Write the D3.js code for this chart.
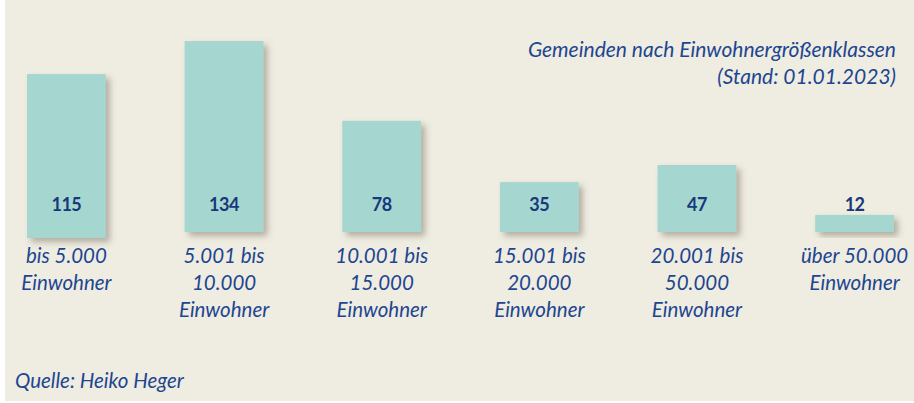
<!DOCTYPE html>
<html>
<head>
<meta charset="utf-8">
<script src="https://cdn.jsdelivr.net/npm/d3@7"></script>
<style>
  html, body { margin: 0; padding: 0; background: #ffffff; }
  svg { display: block; }
</style>
</head>
<body>
<div id="chart"></div>
<script>
// Gemeinden nach Einwohnergrößenklassen (Stand: 01.01.2023)
var categories = ["bis 5.000", "5.001 bis 10.000", "10.001 bis 15.000", "15.001 bis 20.000", "20.001 bis 50.000", "über 50.000"];
var categoryLines = [
    ["bis 5.000", "Einwohner"],
    ["5.001 bis", "10.000", "Einwohner"],
    ["10.001 bis", "15.000", "Einwohner"],
    ["15.001 bis", "20.000", "Einwohner"],
    ["20.001 bis", "50.000", "Einwohner"],
    ["über 50.000", "Einwohner"]
];
var values = [115, 134, 78, 35, 47, 12];
var titleLines = ["Gemeinden nach Einwohnergrößenklassen", "(Stand: 01.01.2023)"];
var sourceText = "Quelle: Heiko Heger";

var width = 914,
    height = 403;

var textColor = "#1d4690",
    valueColor = "#17397c",
    barColor = "#a6d6d0",
    bgColor = "#efece2";

var svg = d3.select("#chart").append("svg")
    .attr("width", width)
    .attr("height", height);

// drop shadow for the bars
var defs = svg.append("defs");
var shadow = defs.append("filter")
    .attr("id", "bar-shadow")
    .attr("x", "-20%")
    .attr("y", "-20%")
    .attr("width", "150%")
    .attr("height", "150%");
shadow.append("feDropShadow")
    .attr("dx", 4)
    .attr("dy", 4)
    .attr("stdDeviation", 3)
    .attr("flood-color", "#6b6450")
    .attr("flood-opacity", 0.45);

// background panel (small white edge left and bottom)
svg.append("rect")
    .attr("x", 5)
    .attr("y", 0)
    .attr("width", width - 5)
    .attr("height", 401)
    .style("fill", bgColor);

var xScale = d3.scaleBand()
    .domain(categories)
    .range([27, 894])
    .paddingInner(0.5)
    .paddingOuter(0);

var yScale = d3.scaleLinear()
    .domain([0, 134])
    .range([232, 41]);

var groups = svg.selectAll(".bar")
    .data(categories)
    .enter().append("g")
    .attr("class", "bar")
    .attr("transform", function(d) {
        return "translate(" + xScale(d) + ",0)";
    });

// first bar sits a few pixels lower in the original
groups.append("rect")
    .attr("x", 0)
    .attr("y", function(d, i) {
        return yScale(values[i]) + (i === 0 ? 6 : 0);
    })
    .attr("width", xScale.bandwidth())
    .attr("height", function(d, i) {
        return yScale(0) - yScale(values[i]);
    })
    .style("fill", barColor)
    .attr("filter", "url(#bar-shadow)");

// value labels sit at the same height for every bar
groups.append("text")
    .attr("x", xScale.bandwidth() / 2)
    .attr("y", 205)
    .attr("dy", "0.35em")
    .style("text-anchor", "middle")
    .style("font-family", "Lato, 'Open Sans', sans-serif")
    .style("font-weight", "bold")
    .style("font-size", "18px")
    .style("letter-spacing", "-0.5px")
    .style("fill", valueColor)
    .text(function(d, i) {
        return values[i];
    });

// category labels
groups.append("text")
    .attr("x", xScale.bandwidth() / 2)
    .attr("y", 263)
    .style("text-anchor", "middle")
    .style("font-family", "Lato, 'Open Sans', sans-serif")
    .style("font-style", "italic")
    .style("font-size", "20.5px")
    .style("fill", textColor)
    .selectAll("tspan")
    .data(function(d, i) {
        return categoryLines[i];
    })
    .enter().append("tspan")
    .attr("x", xScale.bandwidth() / 2)
    .attr("dy", function(d, i) {
        return i === 0 ? 0 : 26.8;
    })
    .text(function(d) {
        return d;
    });

// title, top right
svg.append("text")
    .attr("x", 896)
    .attr("y", 57)
    .style("text-anchor", "end")
    .style("font-family", "Lato, 'Open Sans', sans-serif")
    .style("font-style", "italic")
    .style("font-size", "21px")
    .style("fill", textColor)
    .selectAll("tspan")
    .data(titleLines)
    .enter().append("tspan")
    .attr("x", 896)
    .attr("dy", function(d, i) {
        return i === 0 ? 0 : 26.5;
    })
    .text(function(d) {
        return d;
    });

// source
svg.append("text")
    .attr("x", 15)
    .attr("y", 388)
    .style("font-family", "Lato, 'Open Sans', sans-serif")
    .style("font-style", "italic")
    .style("font-size", "20.5px")
    .style("fill", textColor)
    .text(sourceText);
</script>
</body>
</html>
